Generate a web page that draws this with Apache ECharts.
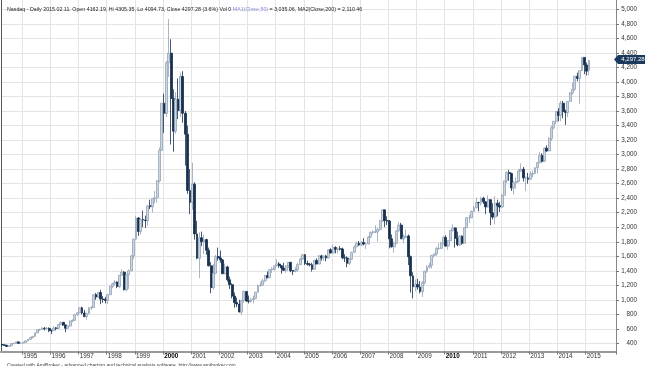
<!DOCTYPE html>
<html><head><meta charset="utf-8">
<script src="https://cdn.jsdelivr.net/npm/echarts@6/dist/echarts.min.js"></script>
<style>html,body{margin:0;padding:0;background:#fff}#c{width:645px;height:366px}</style>
</head><body><div id="c"></div>
<script>
// Monthly bars, Apr 1994 .. Feb 2015
const opens = [
 384,378,374,357,369,396,400,420,402,
 404,413,434,455,480,496,545,586,594,608,604,607,
 576,575,612,607,660,690,653,608,640,707,718,795,
 821,890,818,770,812,888,895,1070,1040,1100,1010,1005,
 991,1071,1185,1220,1245,1185,1337,1380,1140,1345,1400,1605,
 1836,2127,1942,2106,2099,2091,2296,2284,2393,2407,2637,3059,
 3708,3570,4266,4398,3774,3324,3763,3610,4077,3570,3283,2507,
 2342,2593,1908,1573,1855,1800,1830,1683,1469,1169,1364,1596,
 1577,1550,1359,1452,1277,1208,1051,963,942,832,989,1116,
 984,981,1004,1018,1106,1197,1201,1262,1335,1303,1417,1425,
 1468,1494,1470,1438,1406,1467,1517,1400,1397,1413,1485,1561,
 1621,1500,1490,1483,1420,1543,1493,1605,1577,1601,1579,1689,
 1645,1720,1695,1703,1700,1580,1575,1505,1560,1655,1730,1780,
 1757,1790,1770,1770,1865,1930,1935,1935,1970,2090,2240,2090,
 2085,1840,1730,1780,1950,2030,1840,1860,1880,1595,1330,1180,
 1212,1176,1112,1237,1394,1450,1477,1612,1632,1706,1710,1781,
 1860,1740,1815,1956,1990,1847,1759,1876,1780,1995,2130,2130,
 2218,2270,2340,2338,2400,2350,2280,2380,2200,2140,2330,2300,
 2278,2440,2640,2755,2740,2540,2615,2630,2775,2800,2680,2680,
 2661,2730,2740,2820,2890,2990,2910,3090,3050,3220,3370,3460,
 3592,3540,3710,3595,3580,3735,3850,3900,4080,4050,4160,4340,
 4236,4162.19
];
const highs = [
 392,385,382,372,397,410,426,427,412,
 418,438,460,484,500,552,590,600,620,625,625,620,
 590,635,625,665,700,692,660,648,712,730,800,830,
 900,905,860,820,900,915,1080,1095,1110,1140,1050,1040,
 1080,1195,1230,1270,1255,1340,1420,1395,1350,1420,1620,1840,
 2150,2140,2130,2230,2160,2300,2380,2400,2500,2650,3100,3710,
 3840,4290,4870,4590,3900,3860,4050,4130,4150,3600,3400,2800,
 2890,2620,2090,1930,1940,1900,1840,1720,1520,1490,1620,1720,
 1680,1560,1500,1470,1320,1230,1100,1030,1000,1000,1130,1120,
 1060,1030,1060,1110,1210,1250,1290,1340,1390,1420,1450,1470,
 1560,1520,1480,1510,1480,1520,1520,1410,1450,1510,1580,1630,
 1630,1540,1510,1510,1550,1570,1620,1620,1610,1620,1700,1710,
 1760,1740,1720,1740,1720,1630,1600,1570,1660,1750,1800,1810,
 1810,1850,1790,1880,1940,1960,2030,1990,2100,2240,2240,2150,
 2100,1900,1800,1960,2070,2060,1900,1970,1900,1610,1380,1280,
 1290,1260,1260,1400,1480,1510,1620,1640,1730,1780,1800,1880,
 1890,1820,1960,2040,2000,1940,1890,1890,2000,2140,2170,2230,
 2300,2410,2350,2420,2420,2360,2440,2380,2330,2430,2380,2350,
 2460,2640,2770,2790,2750,2640,2690,2800,2880,2830,2700,2750,
 2770,2780,2820,2900,3040,3020,3100,3130,3240,3400,3460,3600,
 3640,3740,3740,3620,3740,3860,3990,4090,4130,4160,4340,4340,
 4270,4305.35
];
const lows = [
 360,363,350,352,366,391,393,392,393,
 397,410,428,450,470,494,540,568,585,578,590,555,
 530,570,580,595,650,640,555,600,630,690,712,775,
 815,800,760,725,808,860,890,1000,1030,940,960,950,
 945,1065,1160,1200,1160,1160,1330,1130,1120,1150,1390,1560,
 1830,1880,1900,2000,1990,2020,2250,2200,2330,2340,2620,3050,
 3300,3520,4070,3140,3040,3290,3490,3520,3440,2850,2460,2180,
 2240,1830,1560,1300,1740,1630,1620,1460,1090,1140,1360,1540,
 1510,1360,1350,1250,1150,1020,890,900,830,795,960,975,
 950,960,950,1010,1100,1180,1200,1240,1300,1300,1370,1400,
 1460,1440,1360,1400,1370,1440,1380,1340,1380,1390,1480,1550,
 1480,1470,1460,1390,1410,1490,1490,1540,1540,1530,1570,1640,
 1640,1640,1640,1680,1560,1520,1450,1480,1550,1650,1730,1740,
 1740,1750,1700,1760,1850,1900,1920,1800,1950,2070,2000,2030,
 1710,1720,1650,1770,1940,1840,1780,1850,1480,1100,1020,1120,
 1140,1090,1040,1210,1370,1430,1430,1580,1610,1690,1700,1760,
 1730,1690,1810,1940,1720,1740,1740,1760,1780,1990,2060,2130,
 2210,2260,2220,2300,2320,2180,2270,2030,2110,2040,2150,2210,
 2270,2440,2610,2640,2500,2450,2530,2620,2760,2630,2500,2600,
 2650,2690,2730,2740,2880,2890,2900,3040,3050,3190,3350,3420,
 3460,3460,3500,3410,3520,3730,3830,3880,4010,3700,4150,4110,
 4090,4094.73
];
const closes = [
 378,374,357,369,396,400,420,402,404,
 413,434,455,480,496,545,586,594,608,604,607,576,
 575,612,607,660,690,653,608,640,707,718,795,821,
 890,818,770,812,888,895,1070,1040,1100,1010,1005,991,
 1071,1185,1220,1245,1185,1337,1380,1140,1345,1400,1605,1836,
 2127,1942,2106,2099,2091,2296,2284,2393,2407,2637,3059,3708,
 3570,4266,4398,3774,3324,3763,3610,4077,3570,3283,2507,2342,
 2593,1908,1573,1855,1800,1830,1683,1469,1169,1364,1596,1577,
 1550,1359,1452,1277,1208,1051,963,942,832,989,1116,984,
 981,1004,1018,1106,1197,1201,1262,1335,1303,1417,1425,1468,
 1494,1470,1438,1406,1467,1517,1400,1397,1413,1485,1561,1621,
 1500,1490,1483,1420,1543,1493,1605,1577,1601,1579,1689,1645,
 1720,1695,1703,1700,1580,1575,1505,1560,1655,1730,1780,1757,
 1790,1770,1770,1865,1930,1935,1935,1970,2090,2240,2090,2085,
 1840,1730,1780,1950,2030,1840,1860,1880,1595,1330,1180,1212,
 1176,1112,1237,1394,1450,1477,1612,1632,1706,1710,1781,1860,
 1740,1815,1956,1990,1847,1759,1876,1780,1995,2130,2130,2218,
 2270,2340,2338,2400,2350,2280,2380,2200,2140,2330,2300,2278,
 2440,2640,2755,2740,2540,2615,2630,2775,2800,2680,2680,2661,
 2730,2740,2820,2890,2990,2910,3090,3050,3220,3370,3460,3592,
 3540,3710,3595,3580,3735,3850,3900,4080,4050,4160,4340,4236,
 4151,4297.28
];
const yTickValues = [400,600,800,1000,1200,1400,1600,1800,2000,2200,2400,2600,2800,3000,3200,3400,3600,3800,4000,4200,4400,4600,4800,5000];
const yearLabels = ['1995','1996','1997','1998','1999','2000','2001','2002','2003','2004','2005','2006','2007','2008','2009','2010','2011','2012','2013','2014','2015'];
const boldYears = ['2000','2010'];
const lastLabel = '4,297.28';
const titleMain = 'Nasdaq - Daily 2015.02.11. Open 4162.19, Hi 4305.35, Lo 4094.73, Close 4297.28 (3.6%) Vol 0 ';
const titleMA1 = 'MA1(Close,50)';
const titleRest = ' = 3,035.06, MA2(Close,200) = 2,110.46';
const footer = 'Created with AmiBroker - advanced charting and technical analysis software. http://www.amibroker.com';

// category axis: months from Apr 1994 through Jan 2016 (right margin left empty)
const categories = [];
for (let y = 1994, m = 4; categories.length < 262; m++) {
  if (m > 12) { m = 1; y++; }
  categories.push(y + '-' + String(m).padStart(2, '0'));
}
const isYearTick = (i, v) => v.slice(5) === '01' && yearLabels.includes(v.slice(0, 4));
const candles = opens.map((o, i) => [o, closes[i], lows[i], highs[i]]);
const FONT = 'Liberation Sans, Arial, sans-serif';

const chart = echarts.init(document.getElementById('c'), null, {renderer: 'canvas'});
chart.setOption({
  animation: false,
  backgroundColor: '#fff',
  title: [
    {left: 2, top: 2, text: '{a|' + titleMain + '}{b|' + titleMA1 + '}{a|' + titleRest + '}',
     textStyle: {fontWeight: 'normal', rich: {
       a: {fontSize: 5.3, color: '#222', fontWeight: 'normal', fontFamily: FONT},
       b: {fontSize: 5.3, color: '#8f8fd8', fontWeight: 'normal', fontFamily: FONT}}}},
    {left: 2, top: 358.5, text: footer, textStyle: {fontSize: 5, color: '#444', fontWeight: 'normal', fontFamily: FONT}}
  ],
  grid: {left: 1, right: 29, top: 0, bottom: 14.5},
  xAxis: {
    type: 'category', data: categories, boundaryGap: true,
    axisLine: {lineStyle: {color: '#999', width: 2}},
    axisTick: {show: true, interval: isYearTick, length: 3, lineStyle: {color: '#777'}},
    axisLabel: {interval: isYearTick, align: 'left', margin: 2, fontSize: 6.3, color: '#333', fontFamily: FONT,
      formatter: v => { const y = v.slice(0, 4); return boldYears.includes(y) ? '{b|' + y + '}' : y; },
      rich: {b: {fontWeight: 'bold', color: '#000', fontSize: 6.3, fontFamily: FONT}}},
    splitLine: {show: true, interval: isYearTick, lineStyle: {color: '#e4e4e4'}}
  },
  yAxis: [{
    type: 'value', position: 'right', min: 288, max: 5131,
    axisLine: {show: true, lineStyle: {color: '#888'}},
    axisTick: {show: true, length: 3, customValues: yTickValues, lineStyle: {color: '#777'}},
    axisLabel: {customValues: yTickValues, align: 'right', margin: 21, fontSize: 6.3, color: '#333', fontFamily: FONT,
      formatter: v => v.toLocaleString('en-US')},
    splitLine: {show: true, lineStyle: {color: '#e4e4e4'}}
  }, {
    type: 'value', position: 'left', min: 288, max: 5131,
    axisLine: {show: true, lineStyle: {color: '#555', width: 1}},
    axisTick: {show: false}, axisLabel: {show: false}, splitLine: {show: false}
  }],
  series: [{
    type: 'candlestick', data: candles, barWidth: 2.4,
    itemStyle: {color: '#cdd7e1', color0: '#17304f', borderColor: '#93a3b6', borderColor0: '#17304f', borderWidth: 0.8},
    markPoint: {
      symbol: 'path://M0,5 L4,0 L34,0 L34,10 L4,10 Z', symbolSize: [34, 9], symbolOffset: [42, -1],
      itemStyle: {color: '#1c3a5e'},
      label: {show: true, formatter: lastLabel, color: '#fff', fontSize: 6, fontFamily: FONT, offset: [2, 0]},
      data: [{coord: [categories[closes.length - 1], closes[closes.length - 1]]}]
    }
  }]
});
</script></body></html>
